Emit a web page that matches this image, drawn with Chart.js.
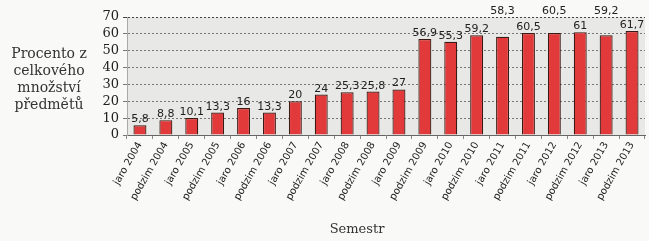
<!DOCTYPE html>
<html><head><meta charset="utf-8">
<script src="https://cdn.jsdelivr.net/npm/chart.js@4"></script>
<style>html,body{margin:0;padding:0;background:#f9f9f7;}#c{display:block;}</style>
</head><body>
<canvas id="c" width="649" height="241"></canvas>
<script>
const categories = ["jaro 2004","podzim 2004","jaro 2005","podzim 2005","jaro 2006","podzim 2006","jaro 2007","podzim 2007","jaro 2008","podzim 2008","jaro 2009","podzim 2009","jaro 2010","podzim 2010","jaro 2011","podzim 2011","jaro 2012","podzim 2012","jaro 2013","podzim 2013"];
const values = [5.8,8.8,10.1,13.3,16,13.3,20,24,25.3,25.8,27,56.9,55.3,59.2,58.3,60.5,60.5,61,59.2,61.7];
const yTicks = [0,10,20,30,40,50,60,70];
const raisedLabels = [14,16,18];
const yTitleLines = ["Procento z","celkového","množství","předmětů"];
const xTitle = "Semestr";

const decorPlugin = {
  id:'decor',
  beforeDraw(chart){
    const {ctx, chartArea:a} = chart;
    ctx.save();
    ctx.fillStyle = '#e8e8e6';
    ctx.fillRect(a.left, a.top, a.right-a.left, a.bottom-a.top);
    ctx.restore();
  },
  afterDatasetsDraw(chart){
    const {ctx, chartArea:a} = chart;
    const meta = chart.getDatasetMeta(0);
    ctx.save();
    ctx.fillStyle = '#222';
    ctx.font = '11px "DejaVu Sans"';
    ctx.textAlign = 'center';
    ctx.textBaseline = 'alphabetic';
    meta.data.forEach((bar,i)=>{
      const txt = String(values[i]).replace('.',',');
      let y = bar.y - 3;
      if (raisedLabels.includes(i)) y = a.top - 3;
      ctx.fillText(txt, bar.x, y);
    });
    ctx.fillStyle = '#333';
    ctx.font = '14px "DejaVu Serif"';
    yTitleLines.forEach((l,i)=>ctx.fillText(l, 49, 58 + i*17));
    ctx.font = '13px "DejaVu Serif"';
    ctx.fillText(xTitle, 357, 233);
    ctx.restore();
  }
};

new Chart(document.getElementById('c'), {
  type:'bar',
  data:{labels:categories, datasets:[{data:values, backgroundColor:'#e2393a', borderColor:'#3a1a14', borderWidth:1.2, categoryPercentage:1, barPercentage:0.5}]},
  options:{
    responsive:false, animation:false,
    layout:{padding:{left:95,right:4,top:17,bottom:0}},
    plugins:{legend:{display:false}, tooltip:{enabled:false}},
    scales:{
      x:{
        grid:{display:true, drawOnChartArea:false, tickLength:4, color:'#888', offset:true},
        border:{color:'#666'},
        ticks:{color:'#222', font:{family:'DejaVu Sans', size:10}, maxRotation:60, minRotation:60, autoSkip:false, padding:1},
        afterFit(s){ s.height = 106; }
      },
      y:{
        min:0, max:70,
        afterBuildTicks(s){ s.ticks = yTicks.map(v=>({value:v})); },
        grid:{color:(c)=> c.tick && c.tick.value===70 ? '#444' : '#777', lineWidth:1, tickLength:4, drawTicks:true},
        border:{display:true, color:'#aaa', dash:[2,2]},
        ticks:{color:'#222', font:{family:'DejaVu Serif', size:13}, padding:4, autoSkip:false, stepSize:10},
        afterFit(s){ s.width = 32; }
      }
    }
  },
  plugins:[decorPlugin]
});
</script>
</body></html>
